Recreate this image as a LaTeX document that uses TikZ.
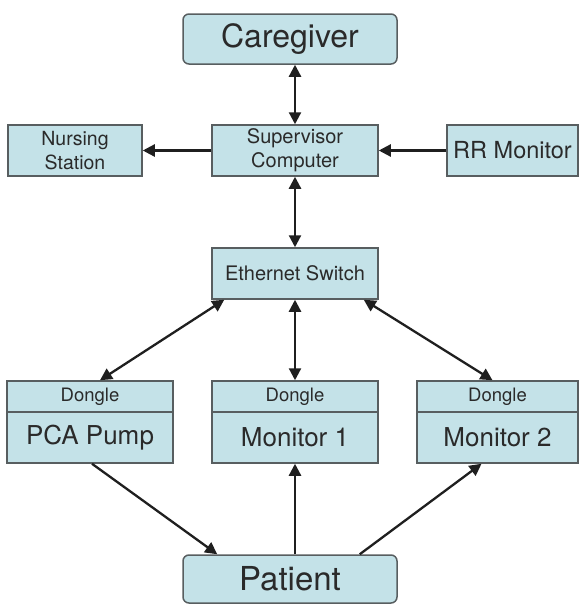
\documentclass[tikz,border=0pt]{standalone}
\usepackage{fontspec}
\setmainfont{TeX Gyre Heros}
\usetikzlibrary{arrows.meta,calc}
\definecolor{boxfill}{HTML}{C4E2E8}
\definecolor{boxline}{HTML}{585E60}
\definecolor{txt}{HTML}{2A2A2A}
\begin{document}
\begin{tikzpicture}[x=1pt,y=-1pt,
  box/.style={draw=boxline,line width=1.5pt,fill=boxfill,text=txt,inner sep=0pt,align=center},
  rbox/.style={box,rounded corners=6pt},
  conn/.style={line width=2.3pt,draw=black!88},
  tip/.style={-{Triangle[length=12pt,width=12pt]}},
  dtip/.style={{Triangle[length=12pt,width=12pt]}-{Triangle[length=12pt,width=12pt]}}]
\useasboundingbox (0,0) rectangle (580,605);
% boxes
\node[rbox,minimum width=214pt,minimum height=50pt,font=\fontsize{32}{36}\selectfont] (care) at (290,39) {Caregiver};
\node[box,minimum width=134pt,minimum height=51pt,font=\fontsize{19.5}{24}\selectfont] (nurse) at (75,150.5) {Nursing\\Station};
\node[box,minimum width=166pt,minimum height=51pt,font=\fontsize{20}{24}\selectfont] (sup) at (295,150.5) {Supervisor\\Computer};
\node[box,minimum width=131pt,minimum height=51pt,font=\fontsize{23.5}{26}\selectfont] (rr) at (512.5,150.5) {RR Monitor};
\node[box,minimum width=166pt,minimum height=51pt,font=\fontsize{20}{24}\selectfont] (eth) at (295,273.5) {Ethernet Switch};
% dongles
\node[box,minimum width=166pt,minimum height=31pt,font=\fontsize{18.5}{20}\selectfont] (dg1) at (90,396.5) {Dongle};
\node[box,minimum width=166pt,minimum height=51pt,font=\fontsize{26}{30}\selectfont] (pca) at (90,437.5) {PCA Pump};
\node[box,minimum width=166pt,minimum height=31pt,font=\fontsize{18.5}{20}\selectfont] (dg2) at (295,396.5) {Dongle};
\node[box,minimum width=166pt,minimum height=51pt,font=\fontsize{26}{30}\selectfont] (mon1) at (295,437.5) {Monitor 1};
\node[box,minimum width=161pt,minimum height=31pt,font=\fontsize{18.5}{20}\selectfont] (dg3) at (497.5,396.5) {Dongle};
\node[box,minimum width=161pt,minimum height=51pt,font=\fontsize{26}{30}\selectfont] (mon2) at (497.5,437.5) {Monitor 2};
\node[rbox,minimum width=214pt,minimum height=48pt,font=\fontsize{33}{36}\selectfont] (pat) at (290,579) {Patient};
% connectors
\draw[conn,dtip] (care.south -| sup.north) -- (sup.north);
\draw[conn,tip] (sup.west) -- (nurse.east);
\draw[conn,tip] (rr.west) -- (sup.east);
\draw[conn,dtip] (sup.south) -- (eth.north);
\draw[conn,dtip] ($(eth.south west)+(13,0)$) -- ($(dg1.north)+(10,0)$);
\draw[conn,dtip] (eth.south) -- (dg2.north);
\draw[conn,dtip] ($(eth.south east)+(-15,0)$) -- ($(dg3.north)+(-5,0)$);
\draw[conn,tip] ($(pca.south)+(2,0)$) -- ($(pat.north west)+(35,0)$);
\draw[conn,tip] (pat.north -| mon1.south) -- (mon1.south);
\draw[conn,tip] ($(pat.north east)+(-38,0)$) -- ($(mon2.south)+(-16,0)$);
\end{tikzpicture}
\end{document}
